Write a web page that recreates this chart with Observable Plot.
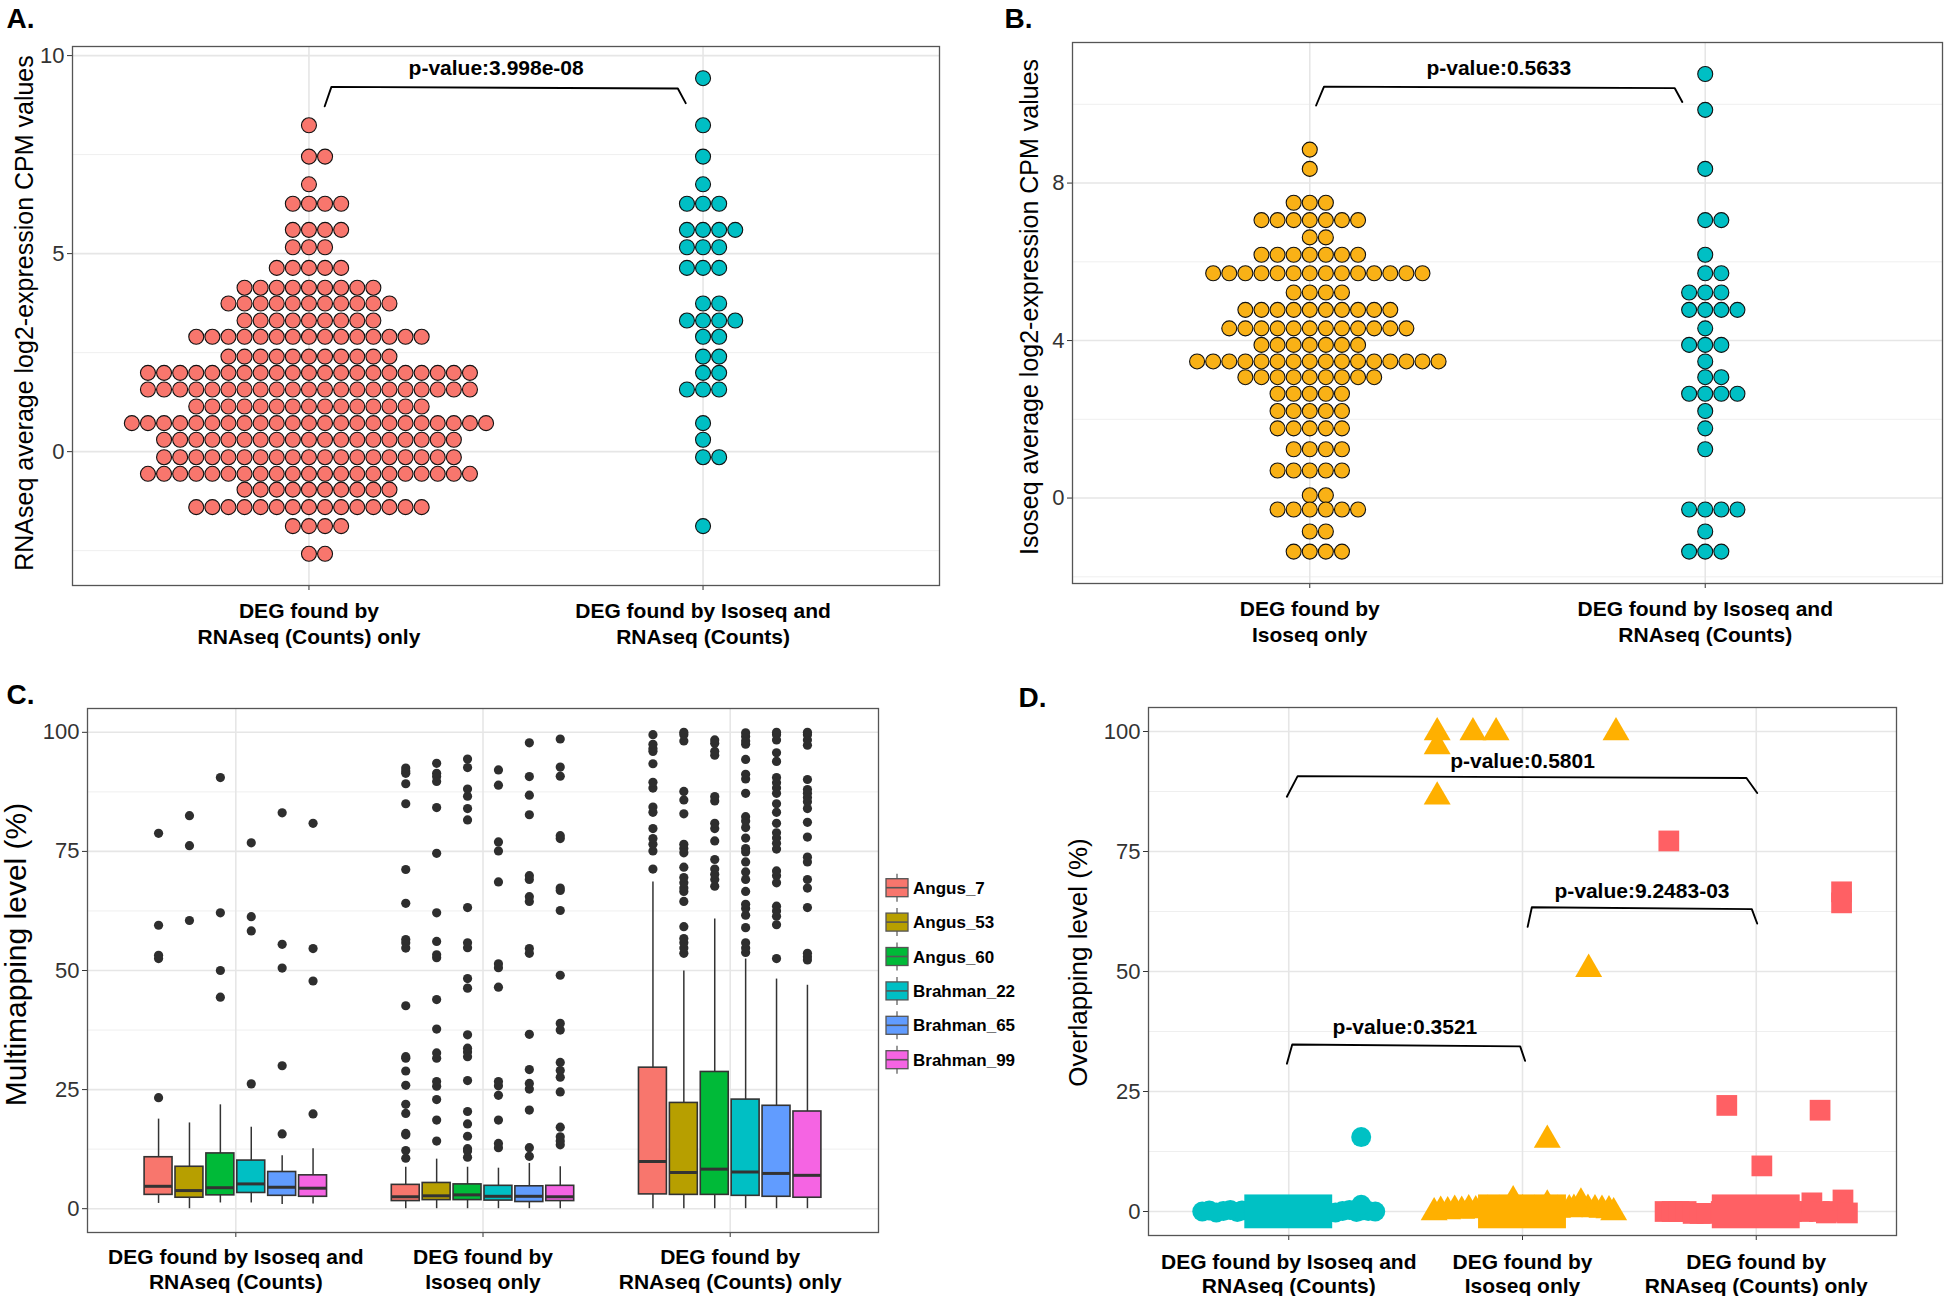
<!DOCTYPE html>
<html>
<head>
<meta charset="utf-8">
<script src="https://cdn.jsdelivr.net/npm/d3@7"></script>
<script src="https://cdn.jsdelivr.net/npm/@observablehq/plot@0.6"></script>
<style>
  body { margin: 0; background: #ffffff; }
  #root { position: relative; width: 1944px; height: 1296px; overflow: hidden; background: #ffffff;
          font-family: "Liberation Sans", Arial, Helvetica, sans-serif; }
  .panel { position: absolute; }
</style>
</head>
<body>
<div id="root"></div>
<script>
// ---------------- DATA ----------------
// Panel A : dot plot (binned rows: y value of row, number of dots in row)
const aCategories = ["DEG found by\nRNAseq (Counts) only", "DEG found by Isoseq and\nRNAseq (Counts)"];
const aYTicks = [0, 5, 10];
const aYMinor = [-2.5, 2.5, 7.5];
const aRedRowY  = [8.24, 7.45, 6.75, 6.26, 5.60, 5.16, 4.64, 4.14, 3.74, 3.31, 2.90, 2.40, 1.99, 1.57, 1.14, 0.72, 0.30, -0.14, -0.56, -0.96, -1.40, -1.88, -2.58];
const aRedRowN  = [1, 2, 1, 4, 4, 3, 5, 9, 11, 9, 15, 11, 21, 21, 15, 23, 19, 19, 21, 10, 15, 4, 2];
const aCyanRowY = [9.43, 8.24, 7.45, 6.75, 6.26, 5.60, 5.16, 4.64, 3.74, 3.31, 2.90, 2.40, 1.99, 1.57, 0.72, 0.30, -0.14, -1.88];
const aCyanRowN = [1, 1, 1, 1, 3, 4, 3, 3, 2, 4, 2, 2, 2, 3, 1, 1, 2, 1];
const aBracketX = [1.040, 1.057, 1.936, 1.956];
const aBracketY = [8.72, 9.21, 9.17, 8.80];
const aPText = ["p-value:3.998e-08"];
const aPX = [1.475];
const aPY = [9.67];
const aYTitle = "RNAseq average log2-expression CPM values";

// Panel B
const bCategories = ["DEG found by\nIsoseq only", "DEG found by Isoseq and\nRNAseq (Counts)"];
const bYTicks = [0, 4, 8];
const bYMinor = [-2, 2, 6, 10];
const bOrangeRowY = [8.85, 8.36, 7.50, 7.06, 6.62, 6.18, 5.71, 5.22, 4.78, 4.31, 3.89, 3.47, 3.07, 2.65, 2.21, 1.77, 1.24, 0.70, 0.07, -0.29, -0.85, -1.36];
const bOrangeRowN = [1, 1, 3, 7, 2, 7, 14, 4, 10, 12, 7, 16, 9, 5, 5, 5, 4, 5, 2, 6, 2, 4];
const bCyanRowY = [10.77, 9.86, 8.36, 7.06, 6.18, 5.71, 5.22, 4.78, 4.31, 3.89, 3.47, 3.07, 2.65, 2.21, 1.77, 1.24, -0.29, -0.85, -1.36];
const bCyanRowN = [1, 1, 1, 2, 1, 2, 3, 4, 1, 3, 1, 2, 4, 1, 1, 1, 4, 1, 3];
const bBracketX = [1.016, 1.036, 1.923, 1.942];
const bBracketY = [9.97, 10.45, 10.41, 10.06];
const bPText = ["p-value:0.5633"];
const bPX = [1.478];
const bPY = [10.91];
const bYTitle = "Isoseq average log2-expression CPM values";

// Panel C : boxplots (group x sample)
const cGroups = ["DEG found by Isoseq and\nRNAseq (Counts)", "DEG found by\nIsoseq only", "DEG found by\nRNAseq (Counts) only"];
const cSamples = ["Angus_7", "Angus_53", "Angus_60", "Brahman_22", "Brahman_65", "Brahman_99"];
const cColors = ["#F8766D", "#B79F00", "#00BA38", "#00BFC4", "#619CFF", "#F564E3"];
const cYTicks = [0, 25, 50, 75, 100];
const cYMinor = [12.5, 37.5, 62.5, 87.5];
const cLow  = [[1.1, 0, 1.2, 1.2, 0.9, 1.0], [0, 0, 0, 0, 0, 0], [0, 0, 0, 0, 0, 0]];
const cQ1   = [[2.9, 2.3, 2.8, 3.3, 2.7, 2.5], [1.6, 1.8, 1.8, 1.7, 1.4, 1.6], [3.0, 2.9, 2.9, 2.7, 2.5, 2.3]];
const cMed  = [[4.7, 3.8, 4.4, 5.2, 4.5, 4.3], [2.5, 2.7, 2.9, 2.6, 2.6, 2.5], [9.9, 7.6, 8.3, 7.7, 7.4, 7.0]];
const cQ3   = [[10.8, 8.8, 11.6, 10.1, 7.7, 7.0], [5.0, 5.4, 5.1, 4.8, 4.7, 4.8], [29.6, 22.2, 28.7, 22.9, 21.6, 20.4]];
const cHigh = [[18.8, 18.0, 21.8, 17.1, 11.1, 12.6], [8.7, 10.4, 8.7, 8.5, 9.5, 8.8], [68.6, 49.9, 60.8, 52.4, 48.2, 46.9]];
const cOutliers = [
  [
    [23.3, 52.5, 53.2, 59.5, 78.8],
    [60.5, 76.2, 82.5],
    [44.4, 50.0, 62.1, 90.5],
    [26.2, 58.3, 61.3, 76.8],
    [15.7, 30.0, 50.5, 55.5, 83.1],
    [19.9, 47.8, 54.6, 80.9]
  ],
  [
    [10.6, 12.2, 15.5, 15.8, 20.0, 21.9, 25.9, 28.9, 31.6, 31.9, 42.6, 54.7, 55.8, 56.5, 64.1, 71.2, 85.0, 89.2, 91.4, 91.9, 92.5],
    [14.2, 18.6, 22.9, 25.7, 26.7, 31.6, 32.7, 37.7, 43.9, 52.7, 53.3, 56.1, 62.1, 74.6, 84.2, 89.7, 90.7, 91.4, 93.5],
    [10.8, 12.1, 12.6, 15.2, 17.8, 20.4, 26.9, 31.9, 32.9, 33.7, 36.5, 46.3, 48.3, 54.8, 55.8, 63.2, 81.6, 84.0, 86.6, 88.1, 92.6, 94.4],
    [12.8, 13.7, 18.6, 23.8, 25.8, 26.7, 46.5, 50.6, 51.4, 68.6, 75.1, 77.0, 88.9, 92.1],
    [11.0, 12.8, 20.7, 25.1, 26.3, 29.2, 36.6, 53.6, 54.6, 64.5, 65.5, 69.1, 69.9, 82.7, 86.8, 90.7, 97.8],
    [13.4, 14.2, 15.1, 17.1, 24.5, 27.6, 29.0, 30.7, 37.5, 38.9, 49.0, 62.6, 66.8, 67.3, 77.7, 78.3, 90.8, 92.7, 98.6]
  ],
  [
    [71.3, 75.1, 76.5, 77.7, 79.8, 83.2, 84.3, 88.3, 89.5, 93.4, 96.0, 96.6, 97.5, 99.5],
    [53.6, 54.7, 55.8, 56.7, 59.2, 64.5, 66.6, 67.3, 68.4, 69.5, 71.7, 74.7, 75.6, 76.5, 82.9, 85.8, 87.6, 98.2, 99.5, 100.0],
    [67.7, 69.1, 70.2, 71.3, 73.3, 77.2, 79.8, 80.9, 85.6, 86.5, 95.2, 96.0, 97.7, 98.4],
    [53.8, 54.7, 55.8, 59.0, 61.6, 63.0, 63.9, 66.6, 69.1, 70.7, 72.8, 74.9, 75.6, 77.8, 80.0, 81.4, 82.3, 87.2, 90.2, 91.2, 94.3, 97.5, 98.2, 99.1, 99.9],
    [52.5, 59.6, 61.4, 62.5, 63.5, 68.4, 69.9, 70.9, 75.5, 76.7, 77.8, 78.9, 80.9, 83.2, 85.0, 87.2, 88.3, 89.4, 90.5, 93.9, 95.7, 98.4, 99.5, 100.0],
    [52.2, 52.9, 53.6, 63.2, 67.3, 69.1, 72.8, 73.8, 78.0, 81.1, 84.0, 85.4, 86.3, 87.2, 88.0, 90.1, 97.3, 98.4, 99.5, 100.0]
  ]
];
const cYTitle = "Multimapping level (%)";

// Panel D : jittered points
const dGroups = cGroups;
const dColors = ["#00C1C4", "#FFB000", "#FF6064"];
const dYTicks = [0, 25, 50, 75, 100];
const dYMinor = [12.5, 37.5, 62.5, 87.5];
const dCircleX = [0.63, 0.66, 0.69, 0.72, 0.75, 0.78, 0.80, 0.85, 0.90, 0.95, 1.00, 1.05, 1.10, 1.15, 1.20, 1.23, 1.26, 1.29, 1.31, 1.34, 1.37, 1.31, 1.31];
const dCircleY = [0.0, 0.2, -0.2, 0.1, 0.3, -0.1, 0.2, 0.0, 0.0, 0.0, 0.0, 0.0, 0.0, 0.0, -0.2, 0.1, 0.3, -0.1, 0.2, 0.1, 0.0, 1.4, 15.5];
const dTriangleX = [1.622, 1.65, 1.68, 1.71, 1.74, 1.77, 1.80, 1.85, 1.90, 1.96, 2.00, 2.05, 2.106, 2.15, 2.20, 2.22, 2.25, 2.28, 2.31, 2.34, 2.37, 2.39,
                    1.635, 1.635, 1.788, 1.887, 2.400, 1.635, 2.283, 2.106];
const dTriangleY = [-0.2, 0.1, 0.0, 0.3, 0.1, 0.4, 0.2, 0.3, 0.3, 2.3, 0.4, 0.3, 1.4, 0.3, 0.4, 0.5, 1.8, 0.5, 0.4, 0.3, 0.2, -0.2,
                    99.8, 96.9, 99.8, 99.8, 99.8, 86.4, 50.5, 14.9];
const dSquareX = [2.61, 2.64, 2.67, 2.70, 2.73, 2.76, 2.79, 2.85, 2.95, 3.05, 3.15, 3.20, 3.238, 3.27, 3.30, 3.33, 3.371, 3.39,
                  2.626, 3.365, 3.365, 2.874, 3.273, 3.024];
const dSquareY = [0.0, 0.0, 0.0, 0.0, -0.4, -0.4, -0.4, 0.0, 0.0, 0.0, 0.0, 0.0, 1.8, 0.0, -0.3, 0.0, 2.4, -0.3,
                  77.2, 64.3, 66.6, 22.1, 21.1, 9.5];
const dBandLow = [-3.6, -3.6, -3.6];
const dBandHigh = [3.45, 3.45, 3.45];
const dBandHalfWidth = 0.188;
const dBracketX = [[0.992, 1.038, 2.958, 3.004], [2.022, 2.040, 2.981, 3.004], [0.992, 1.015, 1.990, 2.011]];
const dBracketY = [[86.4, 90.7, 90.3, 87.2], [59.3, 63.4, 63.0, 60.0], [30.8, 34.8, 34.4, 31.4]];
const dPText = ["p-value:0.5801", "p-value:9.2483-03", "p-value:0.3521"];
const dPX = [2.0, 2.511, 1.497];
const dPY = [93.9, 66.7, 38.3];
const dYTitle = "Overlapping level (%)";

const panelLetters = ["A.", "B.", "C.", "D."];

// ---------------- STYLE / HELPERS ----------------
const FONT = '"Liberation Sans", Arial, Helvetica, sans-serif';
const GRID_MAJOR = {stroke: "#e6e6e6", strokeOpacity: 1, strokeWidth: 1.6};
const GRID_MINOR = {stroke: "#efefef", strokeOpacity: 1, strokeWidth: 1.0};
const root = document.getElementById("root");

function place(el, left, top) {
  const wrap = document.createElement("div");
  wrap.className = "panel";
  wrap.style.left = left + "px";
  wrap.style.top = top + "px";
  wrap.appendChild(el);
  root.appendChild(wrap);
}

// ggplot "centerwhole" stacking of each binned row
function stackRows(rowY, rowN, center, spacing) {
  const pts = [];
  rowY.forEach((y, i) => {
    const n = rowN[i];
    const first = -Math.floor((n - 1) / 2);
    for (let k = 0; k < n; k++) pts.push({x: center + (first + k) * spacing, y});
  });
  return pts;
}

function commonMarks(o) {
  return [
    Plot.axisY(o.yTicks, {anchor: "left", tickSize: 5, tickPadding: 3, fontSize: 22, color: "#333", label: null}),
    Plot.axisX(o.xTicks, {anchor: "bottom", tickSize: 5, tickFormat: () => "", color: "#333", label: null}),
    Plot.text(o.categories, {x: (d, i) => i + 1, frameAnchor: "bottom", dy: o.labelDy, lineAnchor: "top",
      lineHeight: o.lineHeight, fontSize: 21, fontWeight: "bold", fill: "#000"}),
    Plot.text([o.yTitle], {frameAnchor: "left", textAnchor: "middle", lineAnchor: "middle", rotate: -90,
      dx: o.titleDx, dy: o.titleDy || 0, fontSize: o.titleSize, fill: "#000"}),
    Plot.text([o.letter], {frameAnchor: "top-left", textAnchor: "start", lineAnchor: "top", dx: o.letterDx, dy: o.letterDy,
      fontSize: 28, fontWeight: "bold", fill: "#000"}),
    Plot.frame({stroke: "#555", strokeWidth: 1.3})
  ];
}

function dotPanel(o) {
  const frameW = o.width - o.ml - o.mr;
  const spacing = 16.1 * 2.2 / frameW;
  const left = stackRows(o.leftY, o.leftN, 1, spacing);
  const right = stackRows(o.rightY, o.rightN, 2, spacing);
  const bracket = o.bracketX.map((x, i) => ({x, y: o.bracketY[i]}));
  return Plot.plot({
    width: o.width, height: o.height,
    marginLeft: o.ml, marginRight: o.mr, marginTop: o.mt, marginBottom: o.mb,
    style: {fontFamily: FONT, background: "transparent", overflow: "visible"},
    x: {type: "linear", domain: [0.4, 2.6], axis: null},
    y: {type: "linear", domain: o.yDomain, axis: null},
    marks: [
      Plot.gridY(o.yMinor, GRID_MINOR),
      Plot.gridY(o.yTicks, GRID_MAJOR),
      Plot.gridX([1, 2], GRID_MAJOR),
      Plot.dot(left, {x: "x", y: "y", r: 7.5, fill: o.leftColor, stroke: "#111", strokeWidth: 1.1}),
      Plot.dot(right, {x: "x", y: "y", r: 7.5, fill: o.rightColor, stroke: "#111", strokeWidth: 1.1}),
      Plot.line(bracket, {x: "x", y: "y", stroke: "#000", strokeWidth: 1.9}),
      Plot.text(o.pText, {x: (d, i) => o.pX[i], y: (d, i) => o.pY[i], fontSize: 21, fontWeight: "bold", fill: "#000"}),
      ...commonMarks({...o, xTicks: [1, 2]})
    ]
  });
}

// ---------------- PANEL A ----------------
place(dotPanel({
  width: 975, height: 660, ml: 72, mr: 36, mt: 46, mb: 75,
  yDomain: [-3.38, 10.23], yTicks: aYTicks, yMinor: aYMinor,
  leftY: aRedRowY, leftN: aRedRowN, leftColor: "#F8766D",
  rightY: aCyanRowY, rightN: aCyanRowN, rightColor: "#00BFC4",
  bracketX: aBracketX, bracketY: aBracketY, pText: aPText, pX: aPX, pY: aPY,
  categories: aCategories, labelDy: 15, lineHeight: 1.2,
  yTitle: aYTitle, titleDx: -48, titleDy: -3, titleSize: 25,
  letter: panelLetters[0], letterDx: -66, letterDy: -38
}), 0, 0);

// ---------------- PANEL B ----------------
place(dotPanel({
  width: 969, height: 660, ml: 97, mr: 2, mt: 42, mb: 77,
  yDomain: [-2.17, 11.57], yTicks: bYTicks, yMinor: bYMinor,
  leftY: bOrangeRowY, leftN: bOrangeRowN, leftColor: "#F9B116",
  rightY: bCyanRowY, rightN: bCyanRowN, rightColor: "#00BFC4",
  bracketX: bBracketX, bracketY: bBracketY, pText: bPText, pX: bPX, pY: bPY,
  categories: bCategories, labelDy: 15, lineHeight: 1.2,
  yTitle: bYTitle, titleDx: -43, titleDy: -6, titleSize: 25,
  letter: panelLetters[1], letterDx: -68, letterDy: -34
}), 975, 0);

// ---------------- PANEL C ----------------
const cDodge = 0.125, cBoxW = 0.113;
const cBoxes = [];
const cDots = [];
cGroups.forEach((g, gi) => cSamples.forEach((s, si) => {
  const x = gi + 1 + (si - 2.5) * cDodge;
  cBoxes.push({x, x1: x - cBoxW / 2, x2: x + cBoxW / 2, lo: cLow[gi][si], q1: cQ1[gi][si], med: cMed[gi][si],
    q3: cQ3[gi][si], hi: cHigh[gi][si], color: cColors[si]});
  cOutliers[gi][si].forEach(v => cDots.push({x, y: v}));
}));

place(Plot.plot({
  width: 1010, height: 636, marginLeft: 87, marginRight: 132, marginTop: 48, marginBottom: 64,
  style: {fontFamily: FONT, background: "transparent", overflow: "visible"},
  x: {type: "linear", domain: [0.4, 3.6], axis: null},
  y: {type: "linear", domain: [-5, 105], axis: null},
  color: {type: "identity"},
  marks: [
    Plot.gridY(cYMinor, GRID_MINOR),
    Plot.gridY(cYTicks, GRID_MAJOR),
    Plot.gridX([1, 2, 3], GRID_MAJOR),
    Plot.ruleX(cBoxes, {x: "x", y1: "lo", y2: "hi", stroke: "#333", strokeWidth: 1.5}),
    Plot.rect(cBoxes, {x1: "x1", x2: "x2", y1: "q1", y2: "q3", fill: "color", stroke: "#333", strokeWidth: 1.6}),
    Plot.ruleY(cBoxes, {y: "med", x1: "x1", x2: "x2", stroke: "#333", strokeWidth: 3}),
    Plot.dot(cDots, {x: "x", y: "y", r: 4.6, fill: "#2e2e2e"}),
    ...commonMarks({
      yTicks: cYTicks, xTicks: [1, 2, 3], categories: cGroups, labelDy: 13, lineHeight: 1.22,
      yTitle: cYTitle, titleDx: -71, titleDy: -16, titleSize: 30,
      letter: panelLetters[2], letterDx: -81, letterDy: -24
    })
  ]
}), 0, 660);

// legend for panel C
const legend = d3.create("svg").attr("width", 130).attr("height", 220)
  .style("overflow", "visible").attr("font-family", FONT);
cSamples.forEach((s, i) => {
  const cy = 25.7 + i * 34.4;
  const g = legend.append("g");
  g.append("line").attr("x1", 17).attr("x2", 17).attr("y1", cy - 14).attr("y2", cy + 14)
    .attr("stroke", "#555").attr("stroke-width", 1.2);
  g.append("rect").attr("x", 6).attr("y", cy - 9).attr("width", 22).attr("height", 18)
    .attr("fill", cColors[i]).attr("stroke", "#555").attr("stroke-width", 1.3);
  g.append("line").attr("x1", 6).attr("x2", 28).attr("y1", cy).attr("y2", cy)
    .attr("stroke", "#555").attr("stroke-width", 1.6);
  g.append("text").attr("x", 33).attr("y", cy).attr("dy", "0.36em")
    .attr("font-size", 17).attr("font-weight", "bold").attr("fill", "#000").text(s);
});
place(legend.node(), 880, 862);

// ---------------- PANEL D ----------------
const dCircles = dCircleX.map((x, i) => ({x, y: dCircleY[i]}));
const dTriangles = dTriangleX.map((x, i) => ({x, y: dTriangleY[i]}));
const dSquares = dSquareX.map((x, i) => ({x, y: dSquareY[i]}));
const dBands = dGroups.map((g, i) => ({x1: i + 1 - dBandHalfWidth, x2: i + 1 + dBandHalfWidth,
  y1: dBandLow[i], y2: dBandHigh[i], color: dColors[i]}));
const dBrackets = dBracketX.flatMap((xs, b) => xs.map((x, i) => ({x, y: dBracketY[b][i], b})));

place(Plot.plot({
  width: 934, height: 636, marginLeft: 138, marginRight: 48, marginTop: 47, marginBottom: 61,
  style: {fontFamily: FONT, background: "transparent", overflow: "visible"},
  x: {type: "linear", domain: [0.4, 3.6], axis: null},
  y: {type: "linear", domain: [-5, 105], axis: null},
  color: {type: "identity"},
  marks: [
    Plot.gridY(dYMinor, GRID_MINOR),
    Plot.gridY(dYTicks, GRID_MAJOR),
    Plot.gridX([1, 2, 3], GRID_MAJOR),
    Plot.dot(dCircles, {x: "x", y: "y", r: 10, symbol: "circle", fill: dColors[0]}),
    Plot.dot(dTriangles, {x: "x", y: "y", r: 10, symbol: "triangle", fill: dColors[1]}),
    Plot.dot(dSquares, {x: "x", y: "y", r: 11.7, symbol: "square", fill: dColors[2]}),
    Plot.rect(dBands, {x1: "x1", x2: "x2", y1: "y1", y2: "y2", fill: "color"}),
    Plot.line(dBrackets, {x: "x", y: "y", z: "b", stroke: "#000", strokeWidth: 1.9}),
    Plot.text(dPText, {x: (d, i) => dPX[i], y: (d, i) => dPY[i], fontSize: 21, fontWeight: "bold", fill: "#000"}),
    ...commonMarks({
      yTicks: dYTicks, xTicks: [1, 2, 3], categories: dGroups, labelDy: 16, lineHeight: 1.16,
      yTitle: dYTitle, titleDx: -70, titleDy: -9, titleSize: 26,
      letter: panelLetters[3], letterDx: -130, letterDy: -20
    })
  ]
}), 1010, 660);
</script>
</body>
</html>
